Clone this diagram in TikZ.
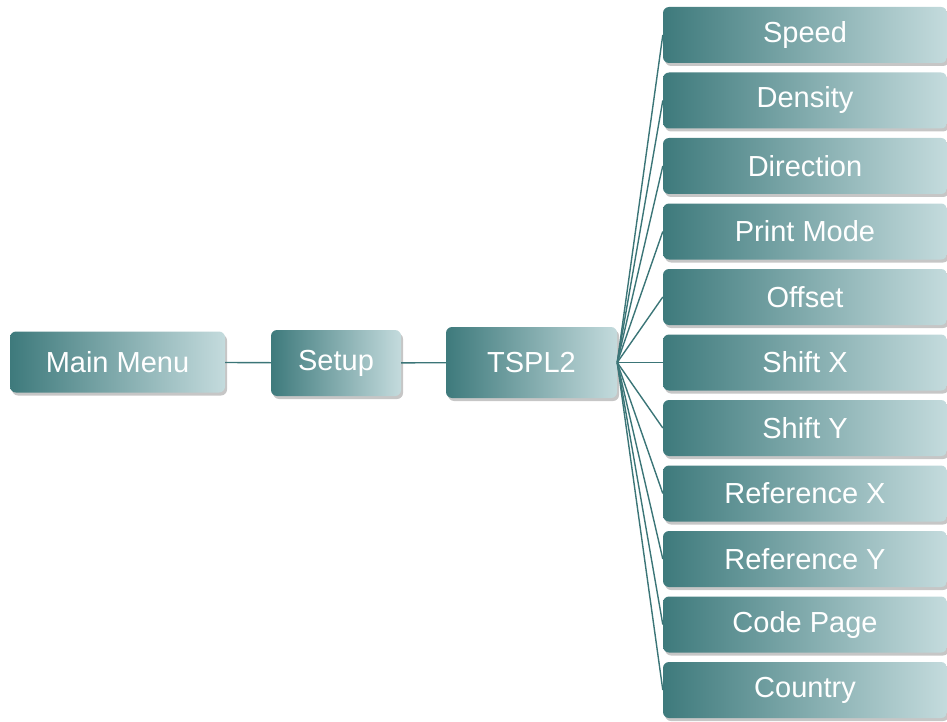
\documentclass[tikz,border=0pt]{standalone}
\usepackage{fontspec}
\setmainfont{Liberation Sans}
\usetikzlibrary{shadows}
\definecolor{tealdark}{HTML}{3E7A7C}
\definecolor{teallight}{HTML}{C4DBDD}
\definecolor{linkteal}{HTML}{3B7577}

\begin{document}
\begin{tikzpicture}[x=1pt, y=-1pt,
  every node/.style={font=\fontsize{29}{32}\selectfont, text=white},
  menubox/.style={rectangle, rounded corners=6pt, inner sep=0pt, left color=tealdark, right color=teallight,
    drop shadow={opacity=0.45, shadow xshift=2pt, shadow yshift=-3pt}},
  link/.style={draw=linkteal, line width=1.4pt}]
  \useasboundingbox (0,0) rectangle (947,722);
  % left chain of menus
  \node[menubox, minimum width=215pt, minimum height=61pt] (mainmenu) at (117.5,362) {Main Menu};
  \node[menubox, minimum width=130pt, minimum height=66pt] (setup) at (336,363) {Setup};
  \node[menubox, minimum width=171pt, minimum height=71pt] (tspl) at (531.5,362.5) {TSPL2};
  \draw[link] (mainmenu) -- (setup);
  \draw[link] (setup) -- (tspl);
  % the TSPL2 settings, fanned out to the right
  \foreach \lbl [count=\i] in {Speed, Density, Direction, Print Mode, Offset, Shift X, Shift Y,
      Reference X, Reference Y, Code Page, Country} {
    \node[menubox, minimum width=284pt, minimum height=56pt] (item\i) at (805,{35+65.5*(\i-1)}) {\lbl};
    \draw[link] (tspl.east) -- (item\i.west);
  }
\end{tikzpicture}
\end{document}
